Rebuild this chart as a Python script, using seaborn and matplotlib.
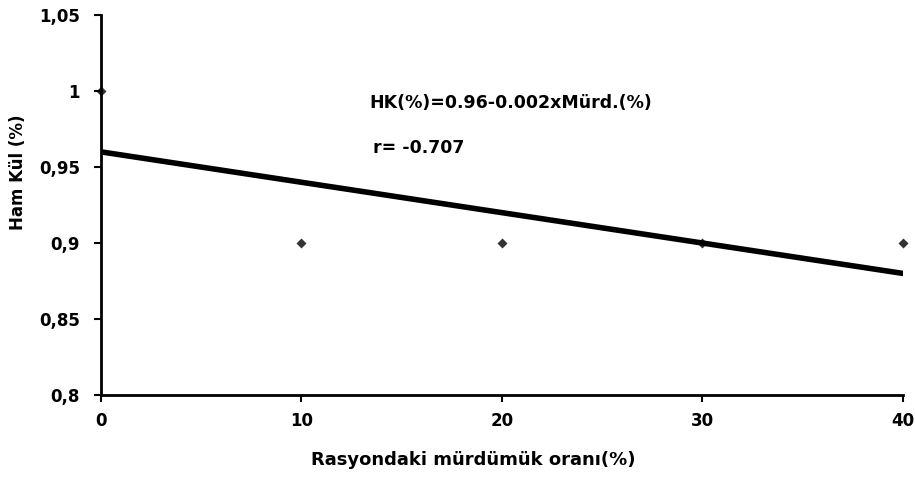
import matplotlib
matplotlib.use("Agg")
import matplotlib.pyplot as plt
import seaborn as sns
import pandas as pd
from matplotlib.ticker import FuncFormatter

x_vals = [0, 10, 20, 30, 40]
y_vals = [1.0, 0.9, 0.9, 0.9, 0.9]
x_ticks = [0, 10, 20, 30, 40]
y_ticks = [0.8, 0.85, 0.9, 0.95, 1.0, 1.05]
eq_text = "HK(%)=0.96-0.002xMürd.(%)"
r_text = "r= -0.707"

sns.set_style("white")
plt.rcParams['font.family'] = ['DejaVu Sans']
plt.rcParams['font.weight'] = 'bold'
plt.rcParams['text.color'] = 'black'
plt.rcParams['axes.labelcolor'] = 'black'

df = pd.DataFrame({"x": x_vals, "y": y_vals})

fig = plt.figure(figsize=(9.15, 4.83), dpi=100)
ax = fig.add_axes([0.110, 0.182, 0.877, 0.787])

sns.regplot(data=df, x="x", y="y", ci=None, ax=ax, truncate=True, marker="D",
            scatter_kws=dict(s=26, color="black", zorder=3, linewidths=0),
            line_kws=dict(color="black", lw=4, zorder=2))

ax.set_xlim(0, 40)
ax.set_ylim(0.8, 1.05)
ax.set_xticks(x_ticks)
ax.set_yticks(y_ticks)
ax.yaxis.set_major_formatter(FuncFormatter(lambda v, p: f"{v:.2f}".rstrip("0").rstrip(".").replace(".", ",")))
ax.tick_params(axis="both", direction="out", length=5, width=1.5, colors="black",
               labelsize=12, bottom=True, left=True)
ax.tick_params(axis="y", pad=10)
ax.tick_params(axis="x", pad=7)
for lab in ax.get_xticklabels() + ax.get_yticklabels():
    lab.set_fontweight("bold")

for s in ["top", "right"]:
    ax.spines[s].set_visible(False)
for s in ["left", "bottom"]:
    ax.spines[s].set_color("black")
    ax.spines[s].set_linewidth(2)

ax.set_xlabel("Rasyondaki mürdümük oranı(%)", fontsize=13, fontweight="bold")
ax.set_ylabel("Ham Kül (%)", fontsize=12, fontweight="bold")
ax.xaxis.set_label_coords(0.464, -0.148)
ax.yaxis.set_label_coords(-0.092, 0.587)

ax.text(13.4, 0.992, eq_text, fontsize=12.5, fontweight="bold", va="center", ha="left")
ax.text(13.6, 0.9625, r_text, fontsize=12.5, fontweight="bold", va="center", ha="left")

for coll in ax.collections:
    coll.set_clip_on(False)

fig.savefig("out.png", dpi=100)
